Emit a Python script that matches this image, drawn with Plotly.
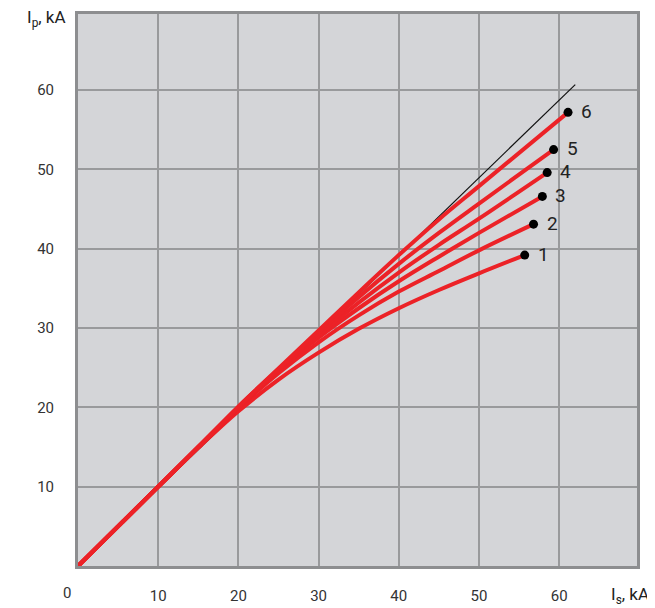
import plotly.graph_objects as go

# Data
x_pts = [0, 10, 15, 20, 25, 30, 35, 40, 45, 50]
curve_labels = ["1", "2", "3", "4", "5", "6"]
curve_y = {
    "1": [0, 10, 14.9, 19.5, 23.5, 26.9, 29.9, 32.5, 34.8, 36.9],
    "2": [0, 10, 15.0, 19.9, 24.3, 28.2, 31.6, 34.6, 37.2, 39.8],
    "3": [0, 10, 15.0, 20.0, 24.6, 28.8, 32.5, 35.9, 39.0, 42.0],
    "4": [0, 10, 15.0, 20.0, 24.7, 29.1, 33.2, 37.0, 40.5, 43.8],
    "5": [0, 10, 15.0, 20.1, 24.8, 29.4, 33.9, 38.1, 42.0, 45.7],
    "6": [0, 10, 15.0, 20.1, 24.9, 29.7, 34.5, 39.2, 43.7, 47.9],
}
end_x = [55.7, 56.8, 57.9, 58.5, 59.3, 61.1]
end_y = [39.2, 43.1, 46.6, 49.6, 52.5, 57.2]
ref_x = [0, 62.0]
ref_y = [0, 60.7]
tick_vals = [10, 20, 30, 40, 50, 60]

RED = "#ec2227"
fig = go.Figure()

fig.add_trace(go.Scatter(x=ref_x, y=ref_y, mode="lines",
                         line=dict(color="#111111", width=1.2),
                         hoverinfo="skip", showlegend=False))

for i, lab in enumerate(curve_labels):
    xs = x_pts + [end_x[i]]
    ys = curve_y[lab] + [end_y[i]]
    fig.add_trace(go.Scatter(x=xs, y=ys, mode="lines",
                             line=dict(color=RED, width=4, shape="spline", smoothing=1.0),
                             showlegend=False))

fig.add_trace(go.Scatter(x=end_x, y=end_y, mode="markers",
                         marker=dict(color="#000000", size=9),
                         showlegend=False))

for i, lab in enumerate(curve_labels):
    fig.add_annotation(x=end_x[i], y=end_y[i], text=lab, showarrow=False,
                       xanchor="left", yanchor="middle", xshift=11, yshift=1,
                       font=dict(family="Roboto", size=19, color="#222222"))

fig.add_annotation(x=0, y=0, text="0", showarrow=False, xanchor="center", yanchor="middle",
                   xshift=-11, yshift=-27, font=dict(family="Roboto", size=15, color="#333333"))

fig.add_annotation(xref="paper", yref="paper", x=0, y=1.0, text="I<sub>p</sub>, kA",
                   showarrow=False, xanchor="right", yanchor="middle", xshift=-10, yshift=-4,
                   font=dict(family="Roboto", size=17, color="#222222"))
fig.add_annotation(xref="paper", yref="paper", x=1.0, y=0, text="I<sub>s</sub>, kA",
                   showarrow=False, xanchor="center", yanchor="middle", xshift=-7, yshift=-29,
                   font=dict(family="Roboto", size=17, color="#222222"))

axis_common = dict(showgrid=True, gridcolor="#999a9c", gridwidth=1.5,
                   showline=True, mirror=True, linecolor="#8d8e90", linewidth=3,
                   zeroline=False, ticks="", tickvals=tick_vals, automargin=False,
                   tickfont=dict(family="Roboto", size=15, color="#333333"))

fig.update_xaxes(range=[0, 69.7], ticklabelstandoff=14, **axis_common)
fig.update_yaxes(range=[0, 69.6], ticklabelstandoff=18, **axis_common)

# page body adds an 8px offset, so the figure is sized to fit the remaining area
fig.update_layout(width=647, height=600,
                  margin=dict(l=70, r=18, t=6, b=42, autoexpand=False),
                  plot_bgcolor="#d4d5d8", paper_bgcolor="#ffffff")

fig.write_html("out.html")
